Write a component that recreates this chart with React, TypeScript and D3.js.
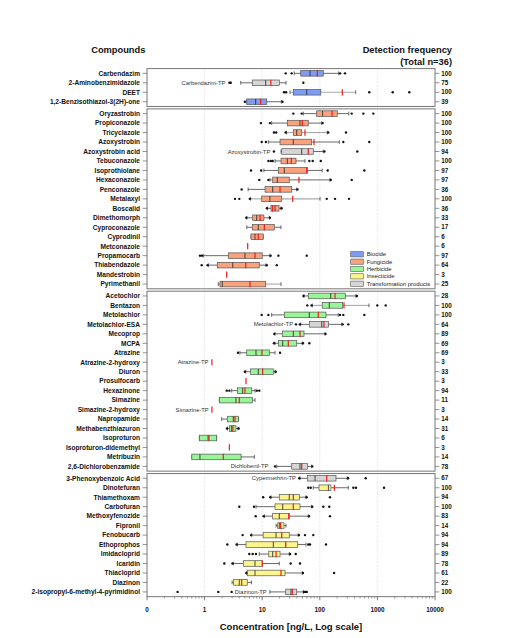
import React from 'react';
import * as d3 from 'd3';

// ---------------- DATA ----------------
const compounds = [
  'Carbendazim', '2-Aminobenzimidazole', 'DEET', '1,2-Benzisothiazol-3(2H)-one',
  'Oryzastrobin', 'Propiconazole', 'Tricyclazole', 'Azoxystrobin', 'Azoxystrobin acid', 'Tebuconazole',
  'Isoprothiolane', 'Hexaconazole', 'Penconazole', 'Metalaxyl', 'Boscalid', 'Dimethomorph',
  'Cyproconazole', 'Cyprodinil', 'Metconazole', 'Propamocarb', 'Thiabendazole', 'Mandestrobin', 'Pyrimethanil',
  'Acetochlor', 'Bentazon', 'Metolachlor', 'Metolachlor-ESA', 'Mecoprop', 'MCPA', 'Atrazine',
  'Atrazine-2-hydroxy', 'Diuron', 'Prosulfocarb', 'Hexazinone', 'Simazine', 'Simazine-2-hydroxy',
  'Napropamide', 'Methabenzthiazuron', 'Isoproturon', 'Isoproturon-didemethyl', 'Metribuzin',
  '2,6-Dichlorobenzamide',
  '3-Phenoxybenzoic Acid', 'Dinotefuran', 'Thiamethoxam', 'Carbofuran', 'Methoxyfenozide', 'Fipronil',
  'Fenobucarb', 'Ethoprophos', 'Imidacloprid', 'Icaridin', 'Thiacloprid', 'Diazinon',
  '2-isopropyl-6-methyl-4-pyrimidinol',
];

const panelSizes = [4, 19, 19, 13];

const groups = [
  'Biocide', 'Transformation products', 'Biocide', 'Biocide',
  'Fungicide', 'Fungicide', 'Fungicide', 'Fungicide', 'Transformation products', 'Fungicide',
  'Fungicide', 'Fungicide', 'Fungicide', 'Fungicide', 'Fungicide', 'Fungicide',
  'Fungicide', 'Fungicide', 'Fungicide', 'Fungicide', 'Fungicide', 'Fungicide', 'Fungicide',
  'Herbicide', 'Herbicide', 'Herbicide', 'Transformation products', 'Herbicide', 'Herbicide', 'Herbicide',
  'Transformation products', 'Herbicide', 'Herbicide', 'Herbicide', 'Herbicide', 'Transformation products',
  'Herbicide', 'Herbicide', 'Herbicide', 'Transformation products', 'Herbicide',
  'Transformation products',
  'Transformation products', 'Insecticide', 'Insecticide', 'Insecticide', 'Insecticide', 'Insecticide',
  'Insecticide', 'Insecticide', 'Insecticide', 'Insecticide', 'Insecticide', 'Insecticide',
  'Transformation products',
];

const detectionFreq = [
  100, 75, 100, 39,
  100, 100, 100, 100, 94, 100, 97, 97, 36, 100, 36, 33, 17, 6, 6, 97, 64, 3, 25,
  28, 100, 100, 64, 89, 69, 69, 3, 33, 3, 94, 11, 3, 14, 31, 6, 3, 14, 78,
  67, 100, 94, 100, 83, 14, 94, 94, 89, 78, 61, 22, 100,
];

// [whisker low, Q1, median, Q3, whisker high] in ng/L (null = single detection)
const boxStats: (number[] | null)[] = [
  [36, 46.6, 67.6, 115, 213],
  [4.24, 6.73, 11.5, 19.8, 25.9],
  [30.4, 34.7, 59.3, 104, 420],
  [5.38, 5.38, 7.7, 12, 21.5],
  [51.8, 88.3, 112, 201, 318],
  [14.6, 27.3, 45.3, 63, 108],
  [26.5, 34.7, 39.7, 48.5, 135],
  [12.8, 20.4, 34.7, 72.3, 218],
  [21.2, 21.8, 48.5, 77.1, 115],
  [16.7, 21.2, 27.3, 38.6, 55.3],
  [10.7, 19.1, 24.2, 60.7, 110],
  [13.6, 15.2, 18.3, 29.5, 150],
  [5.7, 11.2, 15.2, 32.5, 39.7],
  [6.3, 9.8, 13.6, 21.8, 101],
  [12.4, 14.2, 16.7, 19.6, 21.2],
  [5.4, 6.84, 8.03, 10.7, 13.3],
  [5.4, 6.73, 8.55, 16.2, 21.2],
  [6.4, 6.4, 7.5, 10.4, 10.4],
  null,
  [0.95, 2.58, 5.02, 10, 13.6],
  [1.16, 1.66, 3.08, 8.9, 11.6],
  null,
  [1.73, 1.85, 2.03, 11.5, 21.2],
  [53.2, 63.1, 155, 277, 425],
  [74.1, 110, 146, 250, 714],
  [14.6, 24.2, 65.8, 128, 209],
  [46.6, 65.8, 108, 141, 240],
  [16.7, 22.3, 34.7, 53.2, 123],
  [16.7, 19.1, 22.7, 39.7, 49.7],
  [4.1, 5.38, 7.8, 13.3, 16.7],
  null,
  [5.18, 6.3, 8.55, 15.6, 16.7],
  null,
  [2.95, 3.7, 4.58, 6.58, 7.5],
  [1.8, 1.8, 3.5, 6.73, 7.5],
  null,
  [1.98, 2.48, 3.15, 3.85, 3.85],
  [2.5, 2.69, 2.95, 3.5, 3.8],
  [0.81, 0.81, 1.15, 1.62, 1.62],
  null,
  [0.6, 0.6, 0.83, 4.29, 7.3],
  [17.9, 32.5, 45.3, 60.7, 72.3],
  [45.3, 60.7, 82.6, 191, 300],
  [77.1, 96.8, 141, 156, 312],
  [14.2, 19.8, 29.5, 44.1, 57.5],
  [7.8, 16.7, 22.7, 45.3, 72.3],
  [10.9, 15.2, 19.8, 29.5, 63.1],
  [17.4, 18.6, 19.8, 23.9, 25.9],
  [6.58, 10.4, 17.4, 29.5, 42.2],
  [3.7, 5.23, 15.6, 41.3, 57.5],
  [8.9, 13, 15.2, 20.4, 29.5],
  [3.15, 4.7, 7.5, 10.2, 19.8],
  [5.4, 5.5, 7.5, 24.9, 49.7],
  [3.0, 3.2, 4.0, 5.5, 6.5],
  [13.6, 25.6, 31.6, 39.7, 51.8],
];

const means = [
  90.6, 14.1, 246, 9.4,
  163, 49.7, 55.3, 79.3, 63.1, 32, 59.3, 43.5, 20.4, 33.9, 15.1, 9.2, 10.9, 8.55, 5.6, 7.5, 5.18, 2.42, 6.14,
  184, 263, 94.2, 118, 45.3, 28.4, 9.9, 1.34, 10.2, 5.23, 5.02, 4.0, 1.34, 3.37, 3.1, 1.19, 2.69, 2.11, 48.5,
  132, 179, 34.7, 34.7, 28.9, 20.9, 21.8, 25.6, 17.4, 10, 21.2, 4.4, 33.3,
];

const outliers: number[][] = [
  [25.6, 32.5, 225, 274],
  [2.7, 2.85, 51.8],
  [23.9, 26, 723, 1845, 3580],
  [5.0, 22.5],
  [34.7, 48.5, 358, 569, 849],
  [9.5, 13.6, 112],
  [16, 17.5, 25.5, 140, 285],
  [9.8, 11.6, 256, 723],
  [16, 120, 448],
  [12.8, 14.1, 15.2, 65.8, 75.3, 104],
  [6.4, 9.6, 137, 593],
  [8.9, 12.8, 155, 358],
  [4.4, 41],
  [3.37, 4, 6.1, 132, 184, 321],
  [12.1, 21.7],
  [5.3, 13.6],
  [],
  [],
  [],
  [0.83, 0.9, 14, 19.1, 59.3],
  [0.89, 1.13, 12, 17.9],
  [],
  [],
  [52, 440],
  [60.7, 72, 996, 1393],
  [9.8, 12.8, 224, 256, 593],
  [38.6, 45, 250, 312],
  [16.2, 126],
  [16, 51, 65.8],
  [3.8, 20.4],
  [],
  [5.0, 17.2],
  [],
  [2.42, 2.69, 8.03, 8.9],
  [],
  [],
  [],
  [2.45, 3.9],
  [],
  [],
  [],
  [16.7, 74],
  [44, 310, 627],
  [63.1, 69.5, 382, 425, 1303],
  [10.4, 13.8, 59, 150],
  [4.0, 7.2, 74, 115, 146],
  [7.7, 10.6, 65, 150],
  [],
  [4.58, 6.4, 43.5, 55.3, 77.1],
  [2.48, 3.6, 63.1, 67.6, 128],
  [5.97, 6.84, 7.8, 30.5, 38.2],
  [2.2, 3.05, 31.2, 45.3],
  [5.3, 51, 177],
  [],
  [0.34, 1.73, 2.95, 53.2, 57, 59.3],
];

// parent-compound annotations for transformation products (text ends at given concentration)
const tpCompounds = ['2-Aminobenzimidazole', 'Azoxystrobin acid', 'Metolachlor-ESA', 'Atrazine-2-hydroxy',
  'Simazine-2-hydroxy', '2,6-Dichlorobenzamide', '3-Phenoxybenzoic Acid', '2-isopropyl-6-methyl-4-pyrimidinol'];
const tpTexts = ['Carbendazim-TP', 'Azoxystrobin-TP', 'Metolachlor-TP', 'Atrazine-TP',
  'Simazine-TP', 'Dichlobenil-TP', 'Cypermethrin-TP', 'Diazinon-TP'];
const tpTextEnd = [2.3, 13.8, 34.3, 1.16, 1.18, 12.8, 38.6, 12.0];

const grayWhiskers = ['DEET', 'Tricyclazole', 'Metalaxyl', 'Bentazon', 'Pyrimethanil'];

const xTicks = [0.1, 1, 10, 100, 1000, 10000];
const xTickLabels = ['0', '1', '10', '100', '1000', '10000'];
const gridTicks = [1, 10, 100, 1000];

const legendItems = ['Biocide', 'Fungicide', 'Herbicide', 'Insecticide', 'Transformation products'];
const legendColors = ['#7f9cf2', '#f9a27e', '#98f598', '#fbf58c', '#d6d6d6'];

// ---------------- LAYOUT ----------------
const W = 517;
const H = 638;
const X0 = 147;
const X1 = 435;
const TOP = 68.6;
const ROW = 9.47;
const GAP = 2.4;
const BOX_H = 5.6;
const CAP_H = 3.8;
const FONT = 'Liberation Sans, Arial, Helvetica, sans-serif';

export default function App() {
  const x = d3.scaleLog().domain([0.1, 10000]).range([X0, X1]);
  const colorOf = d3.scaleOrdinal<string, string>().domain(legendItems).range(legendColors);

  // panels
  const panels: { top: number; bottom: number; names: string[]; band: d3.ScaleBand<string> }[] = [];
  let start = 0;
  panelSizes.forEach((n, p) => {
    const top = TOP + start * ROW + p * GAP;
    const bottom = top + n * ROW;
    const names = compounds.slice(start, start + n);
    const band = d3.scaleBand<string>().domain(names).range([top, bottom]).padding(0);
    panels.push({ top, bottom, names, band });
    start += n;
  });

  const yOf = (name: string) => {
    for (const p of panels) {
      const v = p.band(name);
      if (v !== undefined) return v + p.band.bandwidth() / 2;
    }
    return 0;
  };

  const lastBottom = panels[panels.length - 1].bottom;

  const minorTicks: number[] = [];
  [0.1, 1, 10, 100, 1000].forEach((d) => {
    for (let k = 2; k <= 9; k++) minorTicks.push(d * k);
  });

  const legendY = d3.scaleLinear().domain([0, 4]).range([254.3, 283.7]);

  return (
    <svg width={W} height={H} style={{ position: 'absolute', left: 0, top: 0, background: '#fff' }}
      fontFamily={FONT}>
      <rect x={0} y={0} width={W} height={H} fill="#fff" />

      {/* headers */}
      <text x={118.3} y={53.3} textAnchor="middle" fontSize={9.3} fontWeight="bold" fill="#111">Compounds</text>
      <text x={452} y={53.3} textAnchor="end" fontSize={9.3} fontWeight="bold" fill="#111">Detection frequency</text>
      <text x={452} y={65} textAnchor="end" fontSize={9.3} fontWeight="bold" fill="#111">(Total n=36)</text>

      {/* panels */}
      {panels.map((p, i) => (
        <g key={'panel' + i}>
          {gridTicks.map((t) => (
            <line key={t} x1={x(t)} x2={x(t)} y1={p.top} y2={p.bottom} stroke="#cfcfcf"
              strokeWidth={0.7} strokeDasharray="1,1.5" />
          ))}
          <rect x={X0} y={p.top} width={X1 - X0} height={p.bottom - p.top} fill="none"
            stroke="#777" strokeWidth={1} />
        </g>
      ))}

      {/* row labels, ticks, frequencies */}
      {compounds.map((name, i) => {
        const y = yOf(name);
        return (
          <g key={'lab' + i}>
            <line x1={142.6} x2={X0} y1={y} y2={y} stroke="#666" strokeWidth={0.7} />
            <line x1={X1} x2={439.4} y1={y} y2={y} stroke="#666" strokeWidth={0.7} />
            <text x={140} y={y} dy="0.35em" textAnchor="end" fontSize={6.6} fontWeight="bold" fill="#111">{name}</text>
            <text x={441.3} y={y} dy="0.35em" fontSize={6.3} fontWeight="bold" fill="#111">{detectionFreq[i]}</text>
          </g>
        );
      })}

      {/* TP annotations */}
      {tpCompounds.map((name, i) => (
        <text key={'tp' + i} x={x(tpTextEnd[i])} y={yOf(name)} dy="0.35em" textAnchor="end"
          fontSize={5.8} fill="#333">{tpTexts[i]}</text>
      ))}

      {/* boxplots */}
      {compounds.map((name, i) => {
        const y = yOf(name);
        const s = boxStats[i];
        const m = means[i];
        const wc = grayWhiskers.includes(name) ? '#a8a8a8' : '#444';
        const ww = grayWhiskers.includes(name) ? 1.1 : 0.8;
        return (
          <g key={'bx' + i}>
            {s && (
              <g>
                <line x1={x(s[0])} x2={x(s[1])} y1={y} y2={y} stroke={wc} strokeWidth={ww} />
                <line x1={x(s[3])} x2={x(s[4])} y1={y} y2={y} stroke={wc} strokeWidth={ww} />
                <line x1={x(s[0])} x2={x(s[0])} y1={y - CAP_H / 2} y2={y + CAP_H / 2} stroke="#444" strokeWidth={0.8} />
                <line x1={x(s[4])} x2={x(s[4])} y1={y - CAP_H / 2} y2={y + CAP_H / 2} stroke="#444" strokeWidth={0.8} />
                <rect x={x(s[1])} y={y - BOX_H / 2} width={Math.max(0.5, x(s[3]) - x(s[1]))} height={BOX_H}
                  fill={colorOf(groups[i])} stroke="#555" strokeWidth={0.7} />
                <line x1={x(s[2])} x2={x(s[2])} y1={y - BOX_H / 2} y2={y + BOX_H / 2} stroke="#333" strokeWidth={0.9} />
              </g>
            )}
            <line x1={x(m)} x2={x(m)} y1={y - BOX_H / 2 - 0.3} y2={y + BOX_H / 2 + 0.3} stroke="#ee1c1c" strokeWidth={1.2} />
            {outliers[i].map((o, j) => (
              <circle key={j} cx={x(o)} cy={y} r={1.2} fill="#111" />
            ))}
          </g>
        );
      })}

      {/* legend */}
      {legendItems.map((it, i) => (
        <g key={'lg' + i}>
          <rect x={350.7} y={legendY(i) - 2.6} width={12.6} height={5.2} fill={legendColors[i]}
            stroke="#555" strokeWidth={0.6} />
          <text x={366.7} y={legendY(i)} dy="0.35em" fontSize={5.9} fill="#222">{it}</text>
        </g>
      ))}

      {/* bottom axis */}
      <g>
        {minorTicks.map((t) => (
          <line key={'mt' + t} x1={x(t)} x2={x(t)} y1={lastBottom} y2={lastBottom + 2} stroke="#666" strokeWidth={0.6} />
        ))}
        {xTicks.map((t, i) => (
          <g key={'xt' + t}>
            <line x1={x(t)} x2={x(t)} y1={lastBottom} y2={lastBottom + 3.6} stroke="#555" strokeWidth={0.8} />
            <text x={x(t)} y={612.4} textAnchor="middle" fontSize={6.3} fontWeight="bold" fill="#111">{xTickLabels[i]}</text>
          </g>
        ))}
        <text x={(X0 + X1) / 2} y={630} textAnchor="middle" fontSize={9.5} fontWeight="bold" fill="#111">
          Concentration [ng/L, Log scale]
        </text>
      </g>
    </svg>
  );
}
